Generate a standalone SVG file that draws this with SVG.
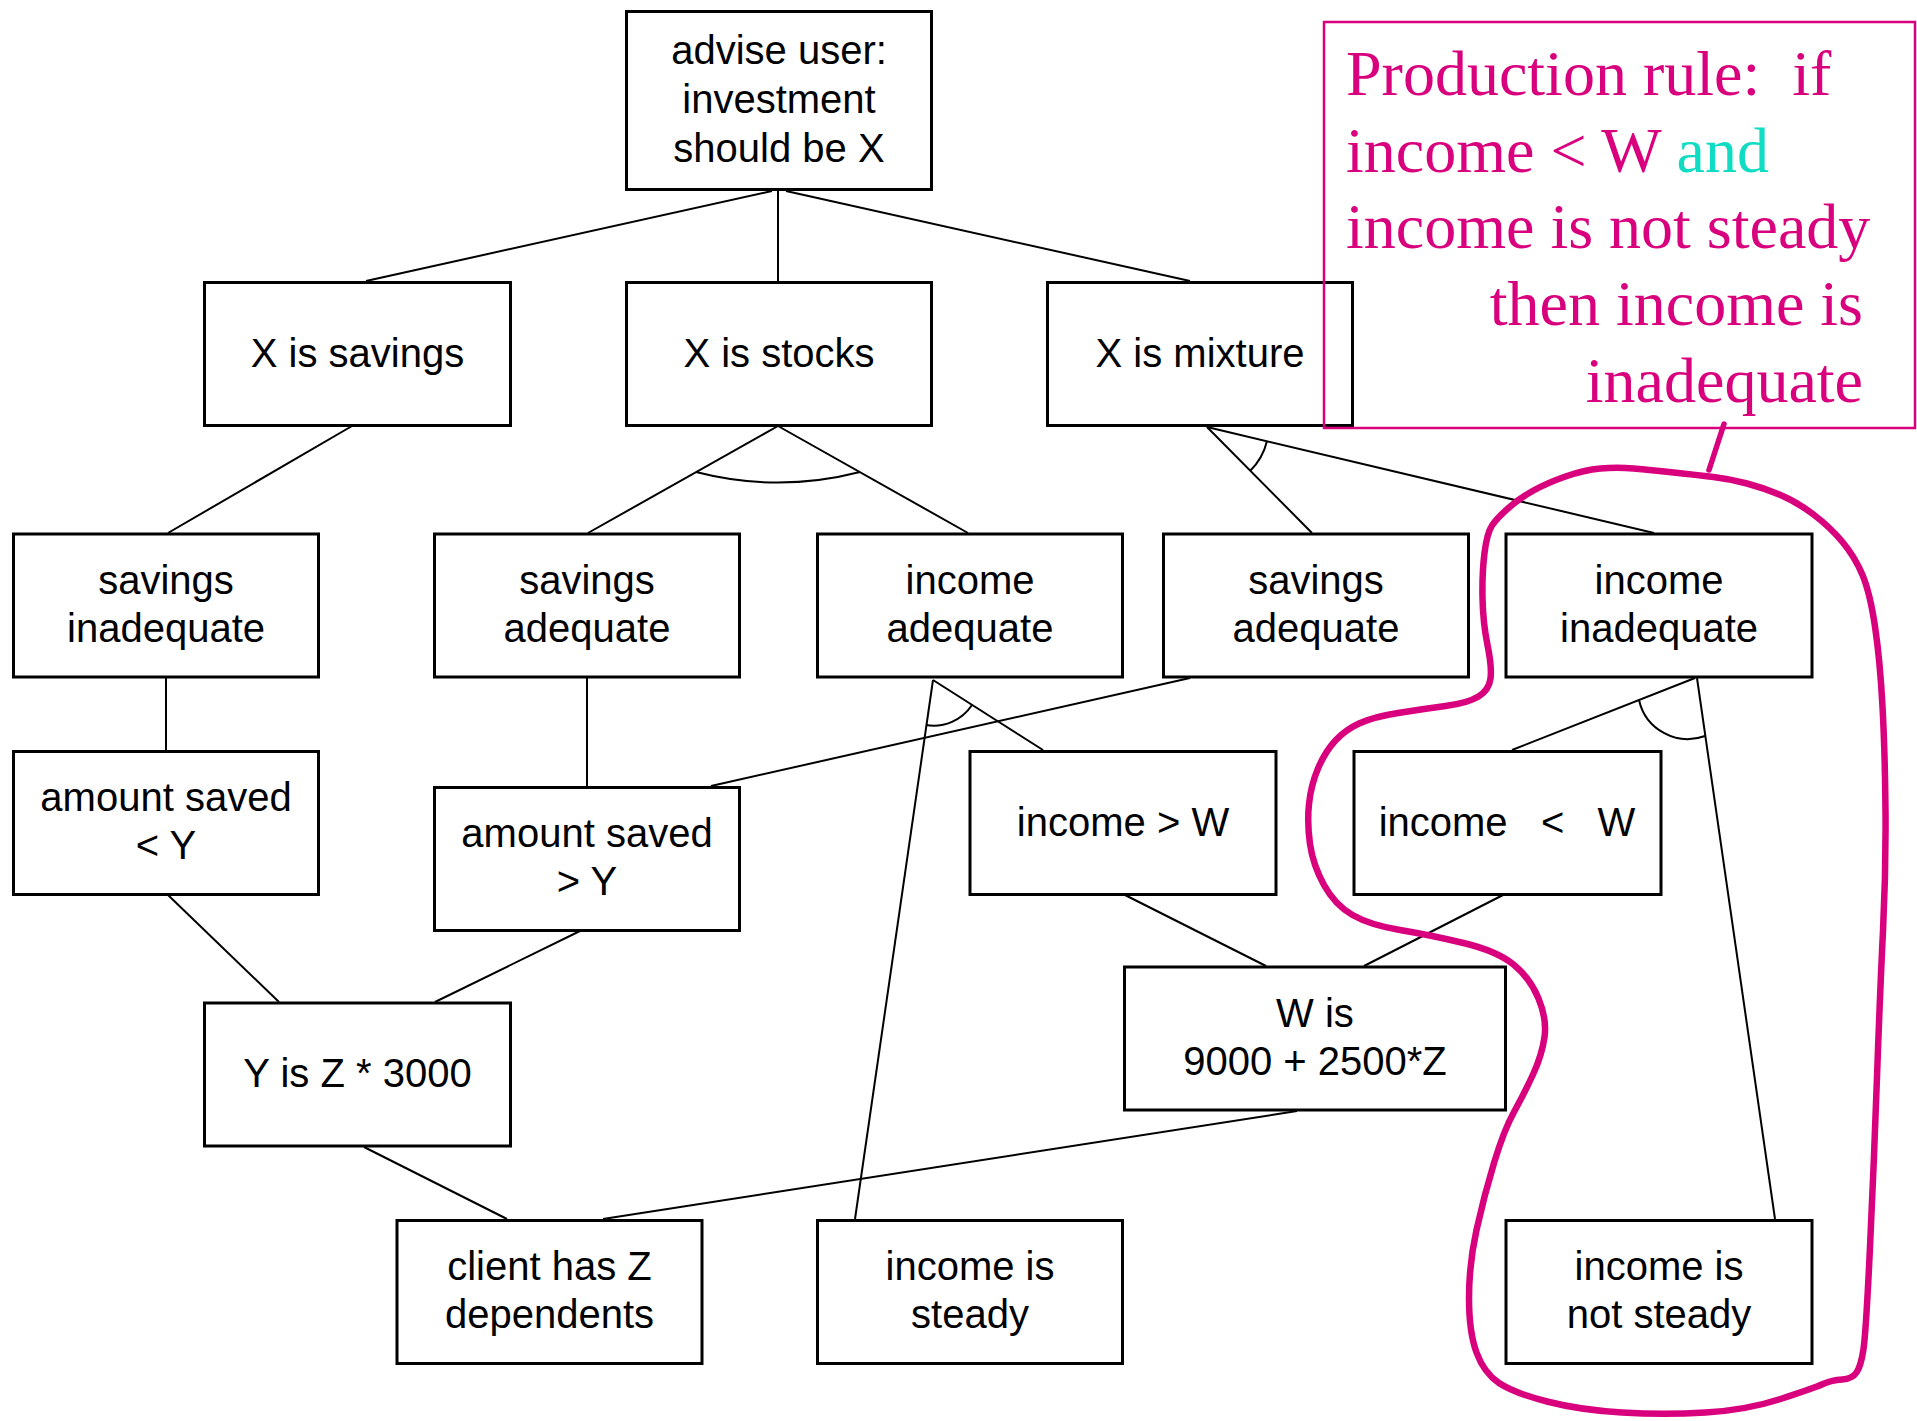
<svg xmlns="http://www.w3.org/2000/svg" width="1917" height="1421" viewBox="0 0 1917 1421">
  <style>
    .box rect { fill: #ffffff; stroke: #000000; stroke-width: 3; }
    .box text { font-family: "Liberation Sans", Arial, sans-serif; font-size: 40px; fill: #000000; text-anchor: middle; }
    .links line, .links path { stroke: #000000; stroke-width: 2; fill: none; }
    .rule text { font-family: "Liberation Serif", "Times New Roman", serif; font-size: 64px; fill: #d9007e; white-space: pre; }
    .rule .and { fill: #10dcc4; }
    .ink { fill: none; stroke: #d9007e; stroke-linecap: round; stroke-linejoin: round; }
  </style>

  <!-- AND/OR tree connectors -->
  <g id="connectors" class="links">
    <line x1="772" y1="191" x2="366" y2="281"/>
    <line x1="778" y1="191" x2="778" y2="281"/>
    <line x1="786" y1="191" x2="1190" y2="281"/>
    <line x1="352" y1="426" x2="168" y2="533"/>
    <line x1="778" y1="426" x2="588" y2="533"/>
    <line x1="778" y1="426" x2="968" y2="533"/>
    <path d="M696,472 A329,329 0 0 0 860,472"/>
    <line x1="1207" y1="427" x2="1312" y2="533"/>
    <line x1="1207" y1="427" x2="1654" y2="533"/>
    <path d="M1250,471 A62,62 0 0 0 1267,441"/>
    <line x1="166" y1="678" x2="166" y2="750"/>
    <line x1="587" y1="678" x2="587" y2="786"/>
    <line x1="1190" y1="678" x2="711" y2="786"/>
    <line x1="933" y1="680" x2="855" y2="1219"/>
    <line x1="933" y1="680" x2="1043" y2="750"/>
    <path d="M926,725 A46,46 0 0 0 972,705"/>
    <line x1="1695" y1="678" x2="1512" y2="750"/>
    <line x1="1697" y1="678" x2="1775" y2="1219"/>
    <path d="M1639,700 A50,50 0 0 0 1705,736"/>
    <line x1="168" y1="895" x2="279" y2="1002"/>
    <line x1="580" y1="931" x2="435" y2="1002"/>
    <line x1="1125" y1="895" x2="1266" y2="966"/>
    <line x1="1503" y1="895" x2="1364" y2="966"/>
    <line x1="364" y1="1147" x2="507" y2="1219"/>
    <line x1="1297" y1="1111" x2="603" y2="1219"/>
  </g>

  <!-- nodes -->
  <g id="advise-user" class="box">
    <rect x="626.5" y="11.5" width="305" height="178"/>
    <text x="779" y="64">advise user:</text>
    <text x="779" y="113">investment</text>
    <text x="779" y="162">should be X</text>
  </g>
  <g id="x-savings" class="box">
    <rect x="204.5" y="282.5" width="306" height="143"/>
    <text x="357.5" y="367">X is savings</text>
  </g>
  <g id="x-stocks" class="box">
    <rect x="626.5" y="282.5" width="305" height="143"/>
    <text x="779" y="367">X is stocks</text>
  </g>
  <g id="x-mixture" class="box">
    <rect x="1047.5" y="282.5" width="305" height="143"/>
    <text x="1200" y="367">X is mixture</text>
  </g>

  <g id="savings-inadequate" class="box">
    <rect x="13.5" y="534" width="305" height="143"/>
    <text x="166" y="594">savings</text>
    <text x="166" y="642">inadequate</text>
  </g>
  <g id="savings-adequate-1" class="box">
    <rect x="434.5" y="534" width="305" height="143"/>
    <text x="587" y="594">savings</text>
    <text x="587" y="642">adequate</text>
  </g>
  <g id="income-adequate" class="box">
    <rect x="817.5" y="534" width="305" height="143"/>
    <text x="970" y="594">income</text>
    <text x="970" y="642">adequate</text>
  </g>
  <g id="savings-adequate-2" class="box">
    <rect x="1163.5" y="534" width="305" height="143"/>
    <text x="1316" y="594">savings</text>
    <text x="1316" y="642">adequate</text>
  </g>
  <g id="income-inadequate" class="box">
    <rect x="1506" y="534" width="306" height="143"/>
    <text x="1659" y="594">income</text>
    <text x="1659" y="642">inadequate</text>
  </g>

  <g id="amount-less" class="box">
    <rect x="13.5" y="751.5" width="305" height="143"/>
    <text x="166" y="811">amount saved</text>
    <text x="166" y="859">&lt; Y</text>
  </g>
  <g id="amount-greater" class="box">
    <rect x="434.5" y="787.5" width="305" height="143"/>
    <text x="587" y="847">amount saved</text>
    <text x="587" y="895">&gt; Y</text>
  </g>
  <g id="income-gt-w" class="box">
    <rect x="970" y="751.5" width="306" height="143"/>
    <text x="1123" y="836" xml:space="preserve">income &gt; W</text>
  </g>
  <g id="income-lt-w" class="box">
    <rect x="1354" y="751.5" width="307" height="143"/>
    <text x="1507" y="836" xml:space="preserve">income   &lt;   W</text>
  </g>

  <g id="y-formula" class="box">
    <rect x="204.5" y="1003" width="306" height="143"/>
    <text x="357.5" y="1087">Y is Z * 3000</text>
  </g>
  <g id="w-formula" class="box">
    <rect x="1124.5" y="967" width="381" height="143"/>
    <text x="1315" y="1027">W is</text>
    <text x="1315" y="1075">9000 + 2500*Z</text>
  </g>

  <g id="client-dependents" class="box">
    <rect x="397" y="1220.5" width="305" height="143"/>
    <text x="549.5" y="1280">client has Z</text>
    <text x="549.5" y="1328">dependents</text>
  </g>
  <g id="income-steady" class="box">
    <rect x="817.5" y="1220.5" width="305" height="143"/>
    <text x="970" y="1280">income is</text>
    <text x="970" y="1328">steady</text>
  </g>
  <g id="income-not-steady" class="box">
    <rect x="1506" y="1220.5" width="306" height="143"/>
    <text x="1659" y="1280">income is</text>
    <text x="1659" y="1328">not steady</text>
  </g>

  <!-- production rule callout -->
  <g id="production-rule" class="rule">
    <rect x="1324" y="22" width="591" height="406" fill="none" stroke="#d9007e" stroke-width="2.5"/>
    <text x="1346" y="95">Production rule:  if</text>
    <text x="1346" y="172">income &lt; W <tspan class="and">and</tspan></text>
    <text x="1346" y="248">income is not steady</text>
    <text x="1863" y="325" text-anchor="end">then income is</text>
    <text x="1863" y="402" text-anchor="end">inadequate</text>
  </g>

  <!-- hand-drawn loop round the rule's nodes -->
  <g id="rule-outline">
    <line class="ink" x1="1724" y1="424" x2="1709" y2="470" stroke-width="5.5"/>
    <path class="ink" stroke-width="6.5" d="M1492,525.5 Q1487,533 1484.5,553 Q1482,573 1482.5,598 Q1483,623 1487.5,645 Q1492,667 1490.5,678.5 Q1489,690 1478.5,696.5 Q1468,703 1445.5,706 Q1423,709 1398,713 Q1373,717 1359,723.5 Q1345,730 1335,741 Q1325,752 1318,768.5 Q1311,785 1309,804 Q1307,823 1310,844 Q1313,865 1324,885 Q1335,905 1352.5,915 Q1370,925 1400,930 Q1430,935 1463.5,943 Q1497,951 1513.5,964.5 Q1530,978 1538.5,998.5 Q1547,1019 1544.5,1037 Q1542,1055 1533,1074.5 Q1524,1094 1514,1112 Q1504,1130 1494,1163 Q1484,1196 1476.5,1230 Q1469,1264 1469,1298 Q1469,1332 1476.5,1352.5 Q1484,1373 1499,1383 Q1514,1393 1547,1401.5 Q1580,1410 1622,1412.5 Q1664,1415 1705.5,1412.5 Q1747,1410 1780.5,1399 Q1814,1388 1823,1384 Q1832,1380 1842,1379.5 Q1852,1379 1856.5,1372.5 Q1861,1366 1863.5,1349 Q1866,1332 1870,1247 Q1874,1162 1877,1077 Q1880,992 1883,931 Q1886,870 1885.5,811.5 Q1885,753 1882.5,706.5 Q1880,660 1875,626.5 Q1870,593 1862.5,575 Q1855,557 1842.5,542 Q1830,527 1813.5,514.5 Q1797,502 1780.5,495 Q1764,488 1747,483.5 Q1730,479 1713.5,477 Q1697,475 1673.5,472.5 Q1650,470 1633.5,468.5 Q1617,467 1600.5,468.5 Q1584,470 1565.5,476.5 Q1547,483 1533.5,490.5 Q1520,498 1508.5,508 Q1497,518 1492,525.5 Z"/>
  </g>
</svg>
